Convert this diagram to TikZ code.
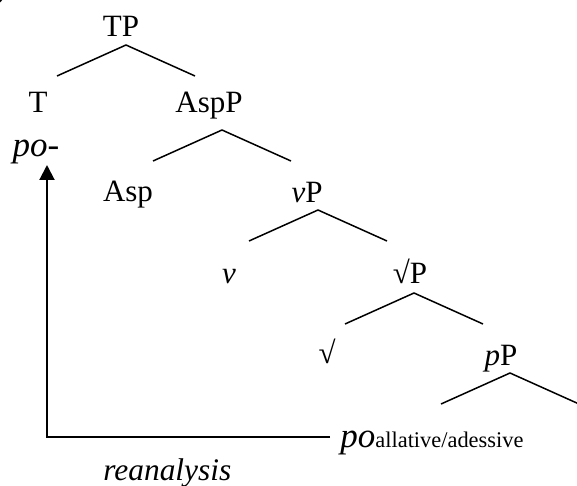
\documentclass[tikz,border=0pt]{standalone}
\usepackage{fontspec}
\setmainfont{Liberation Serif}
\usetikzlibrary{arrows.meta}
\tikzset{
  cat/.style={anchor=base, inner sep=0pt, font=\fontsize{15.5}{18}\selectfont},
  morph/.style={anchor=base, inner sep=0pt, font=\fontsize{17.5}{20}\selectfont\itshape},
  branch/.style={line width=0.75pt},
  reanarrow/.style={line width=1pt, -{Triangle[length=7.5pt,width=7.5pt]}},
}

\begin{document}
\begin{tikzpicture}[x=0.5pt, y=-0.5pt]
  \useasboundingbox (0,0) rectangle (577,486);
  % example number, cut off at the top
  \node[cat] (exno) at (1,-1) {)};
  % category labels
  \node[cat] (TP) at (121,37) {TP};
  \node[cat] (T) at (38,113) {T};
  \node[cat] (AspP) at (209,113) {AspP};
  \node[cat] (Asp) at (128,201) {Asp};
  \node[cat] (vP) at (307,202) {\textit{v}P};
  \node[cat] (v) at (229,283) {\textit{v}};
  \node[cat] (rootP) at (410,283) {√P};
  \node[cat] (root) at (327,363) {√};
  \node[cat] (pP) at (501,365) {\textit{p}P};
  % morphemes
  \node[morph] (poT) at (36,157) {po-};
  \node[morph, anchor=base west] (poall) at (340,447)
    {po{\fontsize{11.2}{13}\selectfont\upshape allative/adessive}};
  \node[morph, anchor=base west, font=\fontsize{15.7}{18}\selectfont\itshape]
    (rean) at (103,480) {reanalysis};
  % branches
  \foreach \n/\x/\y in {tp/126/45, asp/222/130, vp/318/210, rootp/414/293, pp/510/373} {
    \coordinate (\n-top) at (\x,\y);
    \coordinate (\n-l) at (\x-69,\y+31);
    \coordinate (\n-r) at (\x+69,\y+31);
    \draw[branch] (\n-l) -- (\n-top) -- (\n-r);
  }
  % reanalysis path
  \coordinate (start) at (330,437);
  \coordinate (turn) at (47,437);
  \coordinate (tip) at (47,165);
  \draw[reanarrow] (start) -- (turn) -- (tip);
\end{tikzpicture}
\end{document}
